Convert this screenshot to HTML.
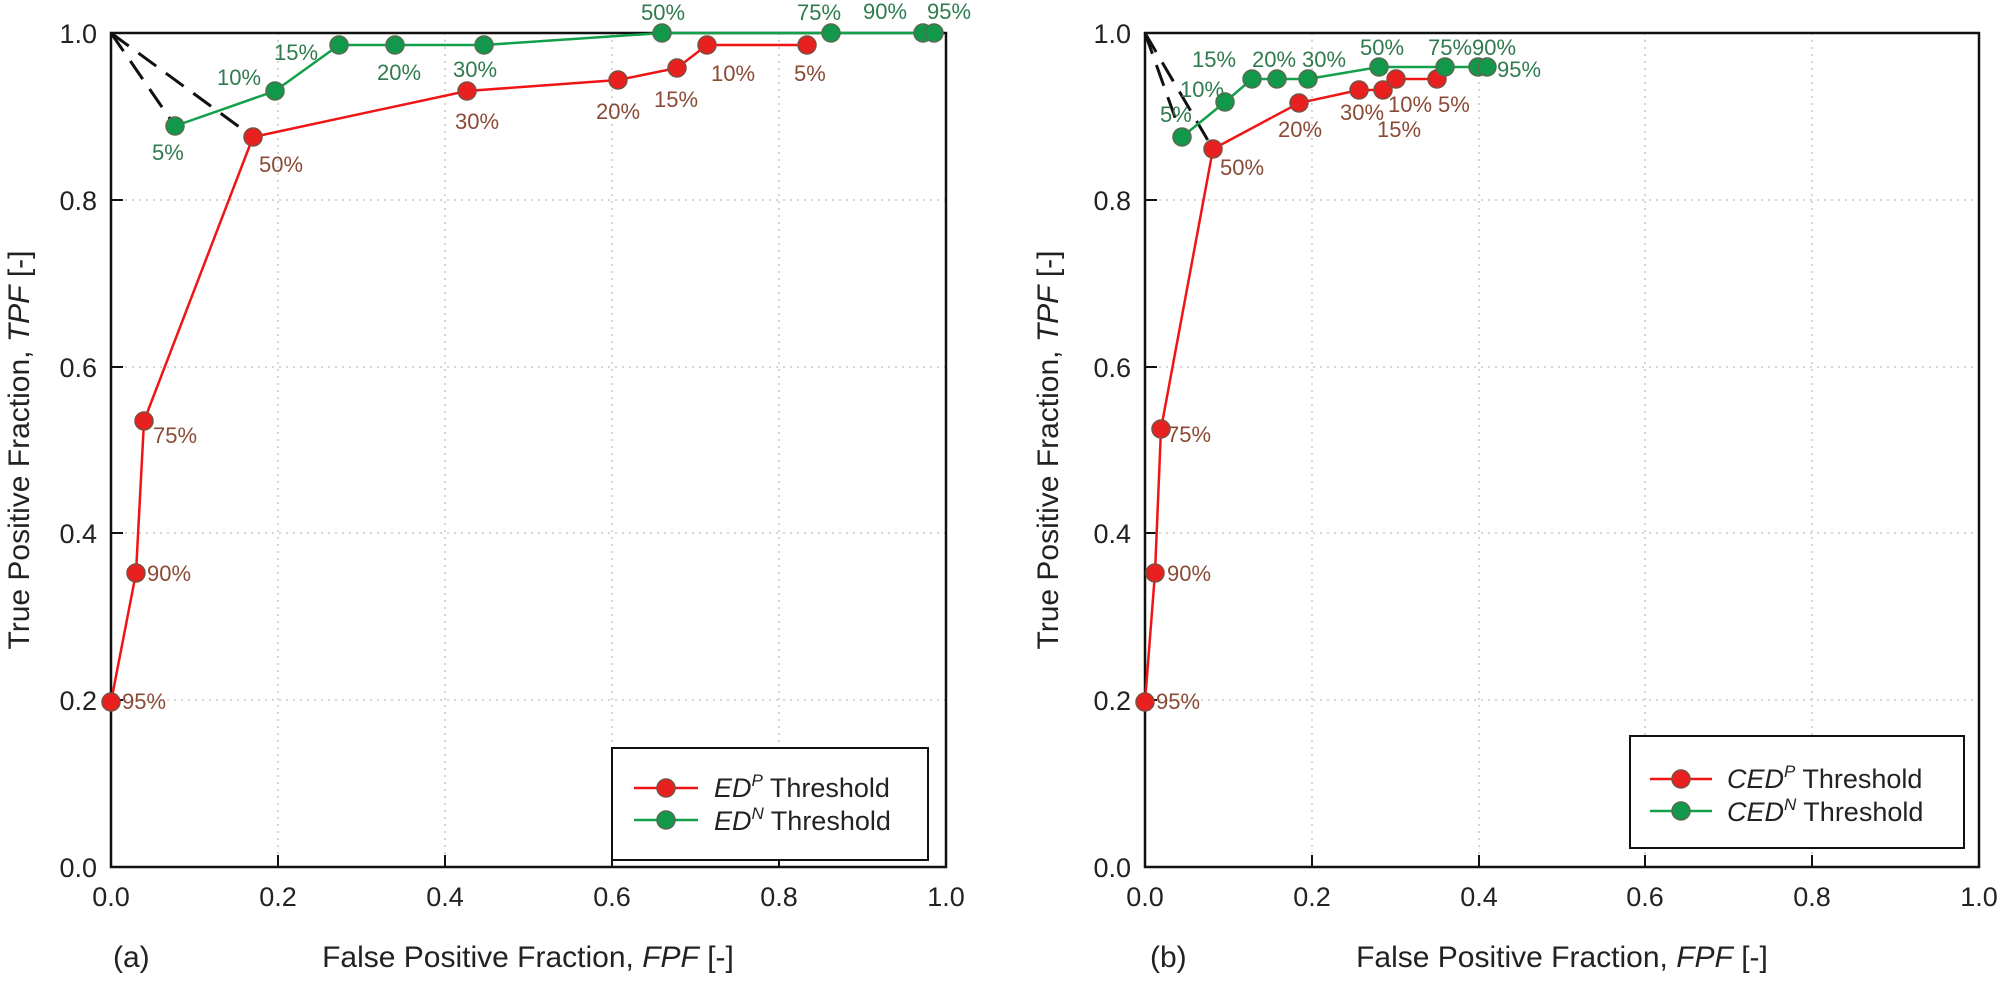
<!DOCTYPE html>
<html><head><meta charset="utf-8"><style>
html,body{margin:0;padding:0;background:#fff;}
svg{display:block;font-family:"Liberation Sans",Arial,sans-serif;}
.tk{font-size:27px;fill:#222;}
.ti{font-size:30px;fill:#222;}
.rl{font-size:22px;fill:#8a4a35;}
.gl{font-size:22px;fill:#2f7a4e;}
.grid{stroke:#c8c8c8;stroke-width:1.5;stroke-dasharray:2,5;}
.lg{font-size:27px;fill:#222;}
</style></head><body>
<svg width="2000" height="983" viewBox="0 0 2000 983" xmlns="http://www.w3.org/2000/svg">
<defs>
<g id="rm"><circle r="9" fill="#e8201f" stroke="#7a5040" stroke-width="1.5"/></g>
<g id="gm"><circle r="9" fill="#11984a" stroke="#5a6a50" stroke-width="1.5"/></g>
</defs>

<!-- LEFT PLOT -->
<g>
<line class="grid" x1="278" y1="33" x2="278" y2="867"/>
<line class="grid" x1="445" y1="33" x2="445" y2="867"/>
<line class="grid" x1="612" y1="33" x2="612" y2="867"/>
<line class="grid" x1="779" y1="33" x2="779" y2="867"/>
<line class="grid" x1="111" y1="700" x2="946" y2="700"/>
<line class="grid" x1="111" y1="533" x2="946" y2="533"/>
<line class="grid" x1="111" y1="367" x2="946" y2="367"/>
<line class="grid" x1="111" y1="200" x2="946" y2="200"/>
<g stroke="#111" stroke-width="2">
<line x1="278" y1="867" x2="278" y2="855"/><line x1="445" y1="867" x2="445" y2="855"/>
<line x1="612" y1="867" x2="612" y2="855"/><line x1="779" y1="867" x2="779" y2="855"/>
<line x1="111" y1="700" x2="123" y2="700"/><line x1="111" y1="533" x2="123" y2="533"/>
<line x1="111" y1="367" x2="123" y2="367"/><line x1="111" y1="200" x2="123" y2="200"/>
</g>
<rect x="111" y="33" width="835" height="834" fill="none" stroke="#111" stroke-width="2.5"/>
<g class="tk" text-anchor="end">
<text x="97" y="877">0.0</text><text x="97" y="710">0.2</text><text x="97" y="543">0.4</text>
<text x="97" y="377">0.6</text><text x="97" y="210">0.8</text><text x="97" y="43">1.0</text>
</g>
<g class="tk" text-anchor="middle">
<text x="111" y="906">0.0</text><text x="278" y="906">0.2</text><text x="445" y="906">0.4</text>
<text x="612" y="906">0.6</text><text x="779" y="906">0.8</text><text x="946" y="906">1.0</text>
</g>
<text class="ti" x="528" y="967" text-anchor="middle">False Positive Fraction, <tspan font-style="italic">FPF</tspan> [-]</text>
<text class="ti" x="113" y="967">(a)</text>
<text class="ti" transform="translate(29,450) rotate(-90)" text-anchor="middle">True Positive Fraction, <tspan font-style="italic">TPF</tspan> [-]</text>
<g stroke="#111" stroke-width="3" stroke-dasharray="22,12" fill="none">
<line x1="111" y1="33" x2="175" y2="126"/>
<line x1="111" y1="33" x2="253" y2="137"/>
</g>
<polyline fill="none" stroke="#f01515" stroke-width="2.5" points="111,702 136,573 144,421 253,137 467,91 618,80 677,68 707,45 807,45"/>
<polyline fill="none" stroke="#13a04a" stroke-width="2.5" points="175,126 275,91 339,45 395,45 484,45 662,33 831,33 923,33 934,33"/>
<use href="#rm" x="111" y="702"/><use href="#rm" x="136" y="573"/><use href="#rm" x="144" y="421"/>
<use href="#rm" x="253" y="137"/><use href="#rm" x="467" y="91"/><use href="#rm" x="618" y="80"/>
<use href="#rm" x="677" y="68"/><use href="#rm" x="707" y="45"/><use href="#rm" x="807" y="45"/>
<use href="#gm" x="175" y="126"/><use href="#gm" x="275" y="91"/><use href="#gm" x="339" y="45"/>
<use href="#gm" x="395" y="45"/><use href="#gm" x="484" y="45"/><use href="#gm" x="662" y="33"/>
<use href="#gm" x="831" y="33"/><use href="#gm" x="923" y="33"/><use href="#gm" x="934" y="33"/>
<g class="rl">
<text x="122" y="709">95%</text><text x="147" y="581">90%</text><text x="153" y="443">75%</text>
<text x="259" y="172">50%</text><text x="455" y="129">30%</text><text x="596" y="119">20%</text>
<text x="654" y="107">15%</text><text x="711" y="81">10%</text><text x="794" y="81">5%</text>
</g>
<g class="gl">
<text x="152" y="160">5%</text><text x="217" y="85">10%</text><text x="274" y="60">15%</text>
<text x="377" y="80">20%</text><text x="453" y="77">30%</text><text x="641" y="20">50%</text>
<text x="797" y="20">75%</text><text x="863" y="19">90%</text><text x="927" y="19">95%</text>
</g>
<rect x="612" y="748" width="316" height="112" fill="#fff" stroke="#111" stroke-width="2"/>
<line x1="634" y1="788" x2="698" y2="788" stroke="#f01515" stroke-width="2.5"/>
<use href="#rm" x="666" y="788"/>
<line x1="634" y1="820" x2="698" y2="820" stroke="#13a04a" stroke-width="2.5"/>
<use href="#gm" x="666" y="820"/>
<text class="lg" x="714" y="797"><tspan font-style="italic">ED</tspan><tspan font-style="italic" font-size="17" dy="-11">P</tspan><tspan dy="11"> Threshold</tspan></text>
<text class="lg" x="714" y="830"><tspan font-style="italic">ED</tspan><tspan font-style="italic" font-size="17" dy="-11">N</tspan><tspan dy="11"> Threshold</tspan></text>
</g>

<!-- RIGHT PLOT -->
<g>
<line class="grid" x1="1312" y1="33" x2="1312" y2="867"/>
<line class="grid" x1="1479" y1="33" x2="1479" y2="867"/>
<line class="grid" x1="1645" y1="33" x2="1645" y2="867"/>
<line class="grid" x1="1812" y1="33" x2="1812" y2="867"/>
<line class="grid" x1="1145" y1="700" x2="1979" y2="700"/>
<line class="grid" x1="1145" y1="533" x2="1979" y2="533"/>
<line class="grid" x1="1145" y1="367" x2="1979" y2="367"/>
<line class="grid" x1="1145" y1="200" x2="1979" y2="200"/>
<g stroke="#111" stroke-width="2">
<line x1="1312" y1="867" x2="1312" y2="855"/><line x1="1479" y1="867" x2="1479" y2="855"/>
<line x1="1645" y1="867" x2="1645" y2="855"/><line x1="1812" y1="867" x2="1812" y2="855"/>
<line x1="1145" y1="700" x2="1157" y2="700"/><line x1="1145" y1="533" x2="1157" y2="533"/>
<line x1="1145" y1="367" x2="1157" y2="367"/><line x1="1145" y1="200" x2="1157" y2="200"/>
</g>
<rect x="1145" y="33" width="834" height="834" fill="none" stroke="#111" stroke-width="2.5"/>
<g class="tk" text-anchor="end">
<text x="1131" y="877">0.0</text><text x="1131" y="710">0.2</text><text x="1131" y="543">0.4</text>
<text x="1131" y="377">0.6</text><text x="1131" y="210">0.8</text><text x="1131" y="43">1.0</text>
</g>
<g class="tk" text-anchor="middle">
<text x="1145" y="906">0.0</text><text x="1312" y="906">0.2</text><text x="1479" y="906">0.4</text>
<text x="1645" y="906">0.6</text><text x="1812" y="906">0.8</text><text x="1979" y="906">1.0</text>
</g>
<text class="ti" x="1562" y="967" text-anchor="middle">False Positive Fraction, <tspan font-style="italic">FPF</tspan> [-]</text>
<text class="ti" x="1150" y="967">(b)</text>
<text class="ti" transform="translate(1058,450) rotate(-90)" text-anchor="middle">True Positive Fraction, <tspan font-style="italic">TPF</tspan> [-]</text>
<g stroke="#111" stroke-width="3" stroke-dasharray="22,12" fill="none">
<line x1="1145" y1="33" x2="1182" y2="137"/>
<line x1="1145" y1="33" x2="1213" y2="149"/>
</g>
<polyline fill="none" stroke="#f01515" stroke-width="2.5" points="1145,702 1155,573 1161,429 1213,149 1299,103 1359,90 1383,90 1396,79 1437,79"/>
<polyline fill="none" stroke="#13a04a" stroke-width="2.5" points="1182,137 1225,102 1252,79 1277,79 1308,79 1379,67 1445,67 1478,67 1487,67"/>
<use href="#rm" x="1145" y="702"/><use href="#rm" x="1155" y="573"/><use href="#rm" x="1161" y="429"/>
<use href="#rm" x="1213" y="149"/><use href="#rm" x="1299" y="103"/><use href="#rm" x="1359" y="90"/>
<use href="#rm" x="1383" y="90"/><use href="#rm" x="1396" y="79"/><use href="#rm" x="1437" y="79"/>
<use href="#gm" x="1182" y="137"/><use href="#gm" x="1225" y="102"/><use href="#gm" x="1252" y="79"/>
<use href="#gm" x="1277" y="79"/><use href="#gm" x="1308" y="79"/><use href="#gm" x="1379" y="67"/>
<use href="#gm" x="1445" y="67"/><use href="#gm" x="1478" y="67"/><use href="#gm" x="1487" y="67"/>
<g class="rl">
<text x="1156" y="709">95%</text><text x="1167" y="581">90%</text><text x="1167" y="442">75%</text>
<text x="1220" y="175">50%</text><text x="1278" y="137">20%</text><text x="1340" y="120">30%</text>
<text x="1377" y="137">15%</text><text x="1388" y="112">10%</text><text x="1438" y="112">5%</text>
</g>
<g class="gl">
<text x="1160" y="122">5%</text><text x="1180" y="97">10%</text><text x="1192" y="67">15%</text>
<text x="1252" y="67">20%</text><text x="1302" y="67">30%</text><text x="1360" y="55">50%</text>
<text x="1428" y="55">75%</text><text x="1472" y="55">90%</text><text x="1497" y="77">95%</text>
</g>
<rect x="1630" y="736" width="334" height="112" fill="#fff" stroke="#111" stroke-width="2"/>
<line x1="1650" y1="779" x2="1712" y2="779" stroke="#f01515" stroke-width="2.5"/>
<use href="#rm" x="1681" y="779"/>
<line x1="1650" y1="811" x2="1712" y2="811" stroke="#13a04a" stroke-width="2.5"/>
<use href="#gm" x="1681" y="811"/>
<text class="lg" x="1727" y="788"><tspan font-style="italic">CED</tspan><tspan font-style="italic" font-size="17" dy="-11">P</tspan><tspan dy="11"> Threshold</tspan></text>
<text class="lg" x="1727" y="821"><tspan font-style="italic">CED</tspan><tspan font-style="italic" font-size="17" dy="-11">N</tspan><tspan dy="11"> Threshold</tspan></text>
</g>
</svg>
</body></html>
